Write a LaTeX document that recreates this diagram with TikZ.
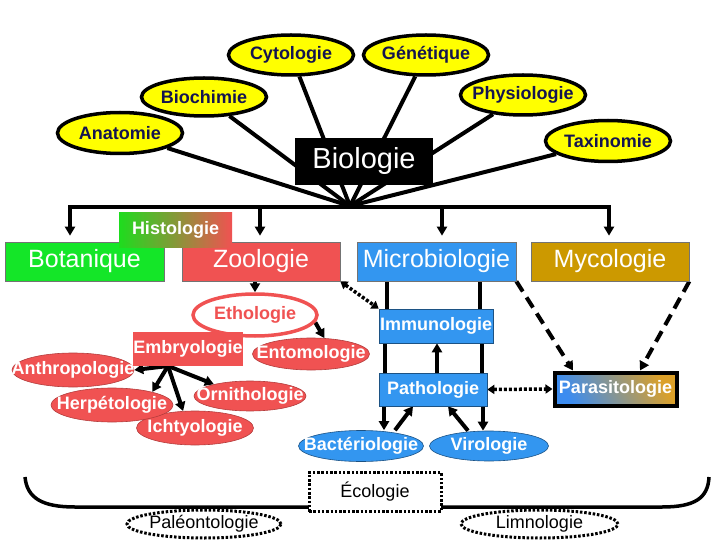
\documentclass[tikz,border=0pt]{standalone}
\usepackage{fontspec}
\setmainfont{Liberation Sans}
\usetikzlibrary{shapes.geometric,arrows.meta,backgrounds}
\definecolor{ylw}{RGB}{255,255,0}
\definecolor{navy}{RGB}{20,20,80}
\definecolor{grn}{RGB}{20,230,40}
\definecolor{rd}{RGB}{240,82,82}
\definecolor{bl}{RGB}{51,150,240}
\definecolor{gld}{RGB}{204,153,0}
\definecolor{hgrn}{RGB}{30,220,30}
\definecolor{hmid}{RGB}{175,185,50}
\definecolor{pbl}{RGB}{60,140,240}
\definecolor{pgld}{RGB}{220,160,40}
\newcommand\zw[1]{\makebox[0pt][c]{#1}}
\begin{document}
\begin{tikzpicture}[x=1pt,y=-1pt,
  yel/.style={ellipse, draw=black, line width=3.5pt, fill=ylw, text=navy, font=\bfseries\fontsize{18}{20}\selectfont, inner sep=0pt, minimum width=125pt, minimum height=40pt},
  bigbox/.style={rectangle, inner sep=0pt, text=white, font=\fontsize{25}{26}\selectfont, draw=black!55, line width=0.7pt, minimum width=159pt, minimum height=39pt},
  sm/.style={inner sep=0pt, text=white, font=\bfseries\fontsize{18}{20}\selectfont},
  redbox/.style={sm, rectangle, fill=rd},
  redell/.style={sm, ellipse, fill=rd, draw=rd!75!black, line width=0.6pt},
  bluebox/.style={sm, rectangle, fill=bl, draw=bl!55!black, line width=0.6pt},
  blueell/.style={sm, ellipse, fill=bl, draw=bl!55!black, line width=0.6pt},
  dotshape/.style={draw=black, line width=3pt, dash pattern=on 2.5pt off 1.8pt, fill=white, inner sep=0pt, font=\fontsize{18}{20}\selectfont},
  ln/.style={line width=4pt},
  arr/.style={line width=4pt, -{Triangle[length=9pt,width=10pt]}},
  dotarr/.style={line width=3.5pt, dash pattern=on 3pt off 2pt, {Triangle[length=7pt,width=9pt]}-{Triangle[length=7pt,width=9pt]}},
  dasharr/.style={line width=4pt, dash pattern=on 12pt off 7pt, -{Triangle[length=9pt,width=10pt]}}
]
\useasboundingbox (0,0) rectangle (720,540);
% top ellipses
\node[yel] (cyto) at (291,55) {\zw{Cytologie}};
\node[yel] (gene) at (426,55) {\zw{Génétique}};
\node[yel, minimum height=38pt] (bioc) at (204,97) {\zw{Biochimie}};
\node[yel] (phys) at (523,95) {\zw{Physiologie}};
\node[yel, minimum height=41pt] (anat) at (120,133) {\zw{Anatomie}};
\node[yel, minimum height=41pt] (taxi) at (608,141) {\zw{Taxinomie}};
\node[fill=black, inner sep=0pt, minimum width=138pt, minimum height=47pt, text=white, font=\fontsize{29}{30}\selectfont] (bio) at (364,161.5) {Biologie};
\coordinate (F) at (350,206);
% main boxes
\node[bigbox, fill=grn] (bota) at (84.5,261.5) {Botanique};
\node[bigbox, fill=rd, minimum width=158pt] (zoo) at (261,261.5) {Zoologie};
\node[bigbox, fill=bl] (micro) at (436.5,261.5) {Microbiologie};
\node[bigbox, fill=gld, minimum width=158pt] (myco) at (610,261.5) {Mycologie};
\node[sm, rectangle, left color=hgrn, middle color=hmid, right color=rd, minimum width=113pt, minimum height=34pt] (histo) at (175.5,230) {Histologie};
% zoology
\node[ellipse, draw=rd, line width=3.5pt, fill=white, text=rd, font=\bfseries\fontsize{18}{20}\selectfont, inner sep=0pt, minimum width=124pt, minimum height=42pt] (etho) at (255,315) {\zw{Ethologie}};
\node[redbox, minimum width=110pt, minimum height=34pt] (embryo) at (188,349) {Embryologie};
\node[redell, minimum width=117pt, minimum height=32pt] (ento) at (311,354) {\zw{Entomologie}};
\node[redell, minimum width=122pt, minimum height=34pt] (anthro) at (73,370) {\zw{Anthropologie}};
\node[redell, minimum width=117pt, minimum height=34pt] (ichty) at (195,428) {\zw{Ichtyologie}};
\node[redell, minimum width=122pt, minimum height=34pt] (herp) at (112,405) {\zw{Herpétologie}};
\node[redell, minimum width=112pt, minimum height=30pt] (orni) at (250,396) {\zw{Ornithologie}};
% microbiology
\node[bluebox, minimum width=114pt, minimum height=34pt] (immuno) at (436,326) {Immunologie};
\node[bluebox, minimum width=108pt, minimum height=33pt] (patho) at (433,389.5) {Pathologie};
\node[blueell, minimum width=125pt, minimum height=31pt] (bact) at (361,446) {\zw{Bactériologie}};
\node[blueell, minimum width=119pt, minimum height=30pt] (viro) at (489,446) {\zw{Virologie}};
\node[sm, rectangle, draw=black, line width=4pt, left color=pbl, right color=pgld, shading angle=120, minimum width=122pt, minimum height=33pt] (para) at (615.5,389) {Parasitologie};
% ecology
\node[dotshape, rectangle, minimum width=132pt, minimum height=39pt] (eco) at (375,492) {Écologie};
\node[dotshape, ellipse, minimum width=154pt, minimum height=28pt] (paleo) at (204,524) {\zw{Paléontologie}};
\node[dotshape, ellipse, minimum width=157pt, minimum height=28pt] (limno) at (539.5,524) {\zw{Limnologie}};

\begin{scope}[on background layer]
  \foreach \n in {anat,bioc,cyto,gene,phys,taxi} \draw[ln] (\n) -- (F);
  \coordinate (bL) at (68,207);
  \coordinate (bR) at (611,207);
  \coordinate (cB) at (70,207);
  \coordinate (cZ) at (260,207);
  \coordinate (cM) at (442,207);
  \coordinate (cY) at (609,207);
  \draw[ln] (bL) -- (bR);
  \draw[arr, shorten >=6pt] (cB) -- (cB |- bota.north);
  \draw[arr, shorten >=6pt] (cZ) -- (cZ |- zoo.north);
  \draw[arr, shorten >=6pt] (cM) -- (cM |- micro.north);
  \draw[arr, shorten >=6pt] (cY) -- (cY |- myco.north);
  % zoology
  \draw[arr] (etho.north |- zoo.south) -- (etho.north);
  \draw[arr] (etho.-7) -- (ento.50);
  \coordinate (eb) at (168,366);
  \draw[arr] (eb) -- (anthro.east);
  \draw[arr] (eb) -- (herp.18);
  \draw[arr] (eb) -- (ichty.125);
  \draw[arr] (eb) -- (orni.162);
  \draw[dotarr] (zoo.south east) -- (immuno.north west);
  % microbiology
  \draw[ln] (micro.south -| 387,0) -- (immuno.north -| 387,0);
  \draw[ln] (micro.south -| 480,0) -- (immuno.north -| 480,0);
  \draw[ln] (immuno.south -| 385,0) -- (patho.north -| 385,0);
  \draw[ln] (immuno.south -| 482,0) -- (patho.north -| 482,0);
  \draw[arr] (patho.north -| 437,0) -- (immuno.south -| 437,0);
  \draw[arr] (patho.south -| 384,0) -- (bact.north -| 384,0);
  \draw[arr] (patho.south -| 483,0) -- (viro.north -| 483,0);
  \draw[arr] (bact.north -| 395,0) -- (patho.south -| 413,0);
  \draw[arr] (viro.north -| 468,0) -- (patho.south -| 448,0);
  \draw[dotarr] (patho.east) -- (para.west);
  \draw[dasharr] (micro.south east) -- (para.north -| 573,0);
  \draw[dasharr] (myco.south east) -- (para.north -| 640,0);
  % ecology bracket
  \draw[line width=3.5pt] (25,477) .. controls (27,498) and (42,507) .. (75,507) -- (662,507) .. controls (695,507) and (708,498) .. (709,477);
\end{scope}
\end{tikzpicture}
\end{document}
